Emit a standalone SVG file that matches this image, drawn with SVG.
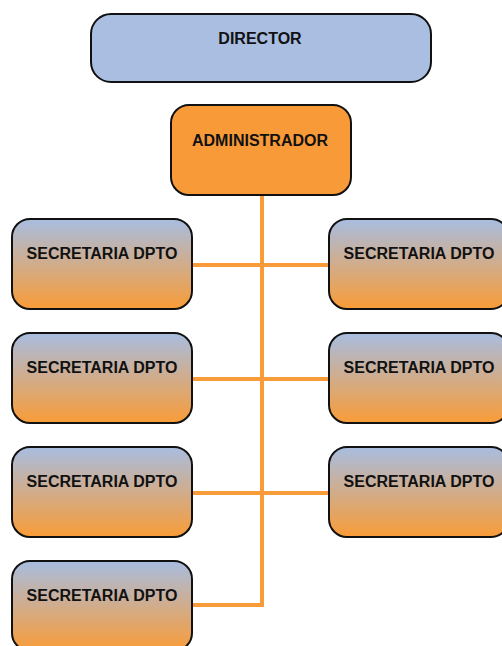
<svg xmlns="http://www.w3.org/2000/svg" width="502" height="646" viewBox="0 0 502 646">
<style>
.box{stroke:#111;stroke-width:2}
.t{font-family:"Liberation Sans",Arial,sans-serif;font-weight:bold;font-size:16px;fill:#111;text-anchor:middle}
.c{stroke:#F99B38;stroke-width:4;fill:none}
</style>
<defs>
<linearGradient id="g" x1="0" y1="0" x2="0" y2="1">
<stop offset="0" stop-color="#A8BDE0"/>
<stop offset="1" stop-color="#F99C37"/>
</linearGradient>
</defs>
<rect width="502" height="646" fill="#fff"/>
<g id="connectors">
<path class="c" d="M262 195V605H193M193 265H328M193 379H328M193 493H328"/>
</g>
<g id="director"><rect class="box" x="91" y="14" width="340" height="68" rx="20" fill="#A9BEE1"/><text class="t" x="260" y="44">DIRECTOR</text></g>
<g id="administrador"><rect class="box" x="171" y="105" width="180" height="90" rx="18" fill="#F99A38"/><text class="t" x="260" y="146">ADMINISTRADOR</text></g>
<g id="sec-l1"><rect class="box" x="12" y="219" width="180" height="90" rx="18" fill="url(#g)"/><text class="t" x="102" y="259">SECRETARIA DPTO</text></g>
<g id="sec-l2"><rect class="box" x="12" y="333" width="180" height="90" rx="18" fill="url(#g)"/><text class="t" x="102" y="373">SECRETARIA DPTO</text></g>
<g id="sec-l3"><rect class="box" x="12" y="447" width="180" height="90" rx="18" fill="url(#g)"/><text class="t" x="102" y="487">SECRETARIA DPTO</text></g>
<g id="sec-l4"><rect class="box" x="12" y="561" width="180" height="90" rx="18" fill="url(#g)"/><text class="t" x="102" y="601">SECRETARIA DPTO</text></g>
<g id="sec-r1"><rect class="box" x="329" y="219" width="180" height="90" rx="18" fill="url(#g)"/><text class="t" x="419" y="259">SECRETARIA DPTO</text></g>
<g id="sec-r2"><rect class="box" x="329" y="333" width="180" height="90" rx="18" fill="url(#g)"/><text class="t" x="419" y="373">SECRETARIA DPTO</text></g>
<g id="sec-r3"><rect class="box" x="329" y="447" width="180" height="90" rx="18" fill="url(#g)"/><text class="t" x="419" y="487">SECRETARIA DPTO</text></g>
</svg>
